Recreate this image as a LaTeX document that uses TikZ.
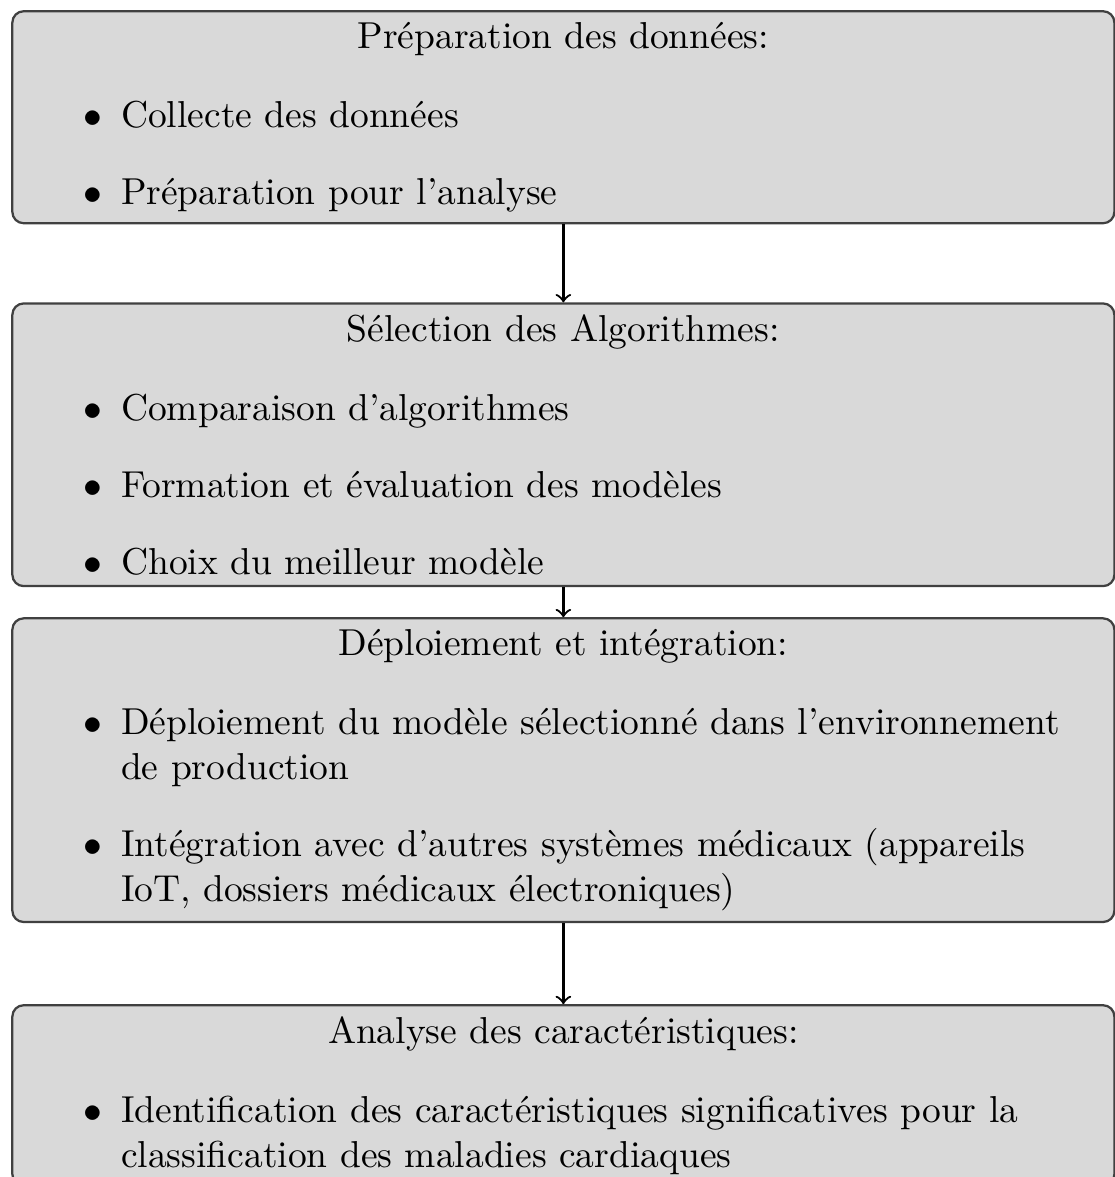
\documentclass[tikz,border=0pt]{standalone}
\usepackage{enumitem}
\usetikzlibrary{positioning}
\setlist[itemize]{label=$\bullet$,topsep=7pt,itemsep=4.5pt}

\begin{document}
\begin{tikzpicture}[x=1pt,y=1pt]
\tikzset{etape/.style={draw=black!75,semithick,fill=gray!30,rounded corners=3pt,
    text width=285.9pt,inner xsep=4pt,inner ysep=3pt,align=left},
  fleche/.style={->,semithick}}
\useasboundingbox (0,0) rectangle (297.3,-313.9);
\node[etape,anchor=north west] (prep) at (3,-2.7) {{\centering Préparation des données:\par}
    \begin{itemize}
    \item Collecte des données
    \item Préparation pour l'analyse
    \end{itemize}};
\node[etape,below=20.8pt of prep] (algo) {{\centering Sélection des Algorithmes:\par}
    \begin{itemize}
    \item Comparaison d'algorithmes
    \item Formation et évaluation des modèles
    \item Choix du meilleur modèle
    \end{itemize}};
\node[etape,below=8pt of algo] (deploi) {{\centering Déploiement et intégration:\par}
    \begin{itemize}
    \item Déploiement du modèle sélectionné dans l'environnement de production
    \item Intégration avec d'autres systèmes médicaux (appareils IoT, dossiers médicaux électroniques)
    \end{itemize}};
\node[etape,below=21.6pt of deploi] (carac) {{\centering Analyse des caractéristiques:\par}
    \begin{itemize}
    \item Identification des caractéristiques significatives pour la classification des maladies cardiaques
    \end{itemize}};
\draw[fleche] (prep) -- (algo);
\draw[fleche] (algo) -- (deploi);
\draw[fleche] (deploi) -- (carac);
\end{tikzpicture}
\end{document}
